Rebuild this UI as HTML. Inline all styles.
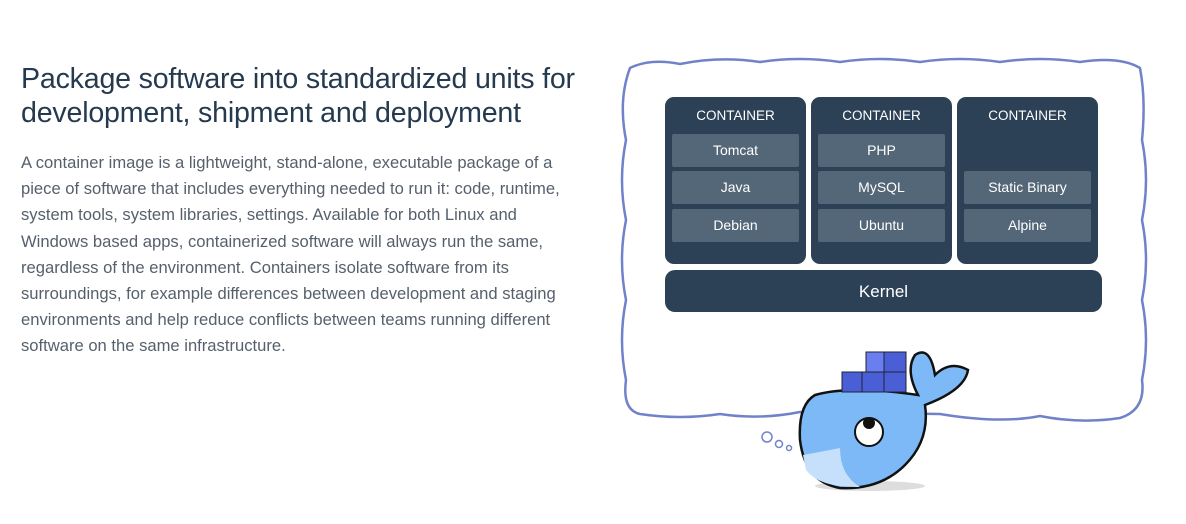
<!DOCTYPE html>
<html><head><meta charset="utf-8"><style>
body{margin:0;width:1186px;height:524px;background:#fff;position:relative;overflow:hidden;font-family:"Liberation Sans",sans-serif}
h1{position:absolute;left:21px;top:62px;margin:0;font-size:28.6px;line-height:34px;font-weight:normal;color:#253a4f;letter-spacing:-0.2px;white-space:nowrap}
p{position:absolute;left:21px;top:150px;margin:0;font-size:16.6px;line-height:26.2px;color:#56606c;white-space:nowrap}
.c{position:absolute;top:97px;width:141px;height:167px;background:#2c4156;border-radius:9px;color:#fff;text-align:center}
.c .t{position:absolute;top:11px;left:0;right:0;font-size:13.5px}
.r{position:absolute;left:7px;width:127px;height:33px;background:#536778;border-radius:2px;font-size:14px;line-height:33px;color:#fff}
.k{position:absolute;left:665px;top:270px;width:437px;height:42px;background:#2c4156;border-radius:10px;color:#fff;text-align:center;font-size:17px;line-height:44px}
</style></head><body>
<h1>Package software into standardized units for<br>development, shipment and deployment</h1>
<p>A container image is a lightweight, stand-alone, executable package of a<br>piece of software that includes everything needed to run it: code, runtime,<br>system tools, system libraries, settings. Available for both Linux and<br>Windows based apps, containerized software will always run the same,<br>regardless of the environment. Containers isolate software from its<br>surroundings, for example differences between development and staging<br>environments and help reduce conflicts between teams running different<br>software on the same infrastructure.</p>
<svg style="position:absolute;left:0;top:0" width="1186" height="524">
<path d="M630 68 Q650 58 680 64 Q720 56 760 62 Q800 56 840 62 Q880 56 920 62 Q960 56 1000 62 Q1040 56 1080 62 Q1120 56 1140 68 Q1146 100 1142 140 Q1150 180 1142 220 Q1150 260 1142 300 Q1150 340 1142 380 Q1146 410 1120 418 Q1080 424 1040 416 Q1000 424 940 414 L800 412 Q760 420 720 414 Q680 420 640 414 Q622 410 626 380 Q618 340 626 300 Q618 260 626 220 Q618 180 626 140 Q618 100 630 68 Z" fill="#fff" stroke="#7282c8" stroke-width="2.5"/>
<circle cx="767" cy="437" r="5" fill="#fff" stroke="#7282c8" stroke-width="1.5"/>
<circle cx="779" cy="444" r="3.5" fill="#fff" stroke="#7282c8" stroke-width="1.5"/>
<circle cx="789" cy="448" r="2.5" fill="#fff" stroke="#7282c8" stroke-width="1.5"/>
<ellipse cx="870" cy="486" rx="55" ry="5" fill="#ddd"/>
<path d="M918 395 Q905 370 915 355 Q930 345 935 375 Q950 360 968 370 Q965 390 925 405 Q930 440 905 465 Q880 490 840 488 Q805 482 800 440 Q798 405 815 395 Q850 385 918 395 Z" fill="#7db9f7" stroke="#111" stroke-width="2.5"/>
<path d="M803 455 Q820 452 840 448 Q840 475 860 487 Q820 488 806 470 Z" fill="#c6e0fb"/>
<rect x="842" y="372" width="20" height="20" fill="#4a5fd6" stroke="#223" stroke-width="1"/>
<rect x="862" y="372" width="22" height="20" fill="#4a5fd6" stroke="#223" stroke-width="1"/>
<rect x="884" y="372" width="22" height="20" fill="#4a5fd6" stroke="#223" stroke-width="1"/>
<rect x="866" y="352" width="20" height="20" fill="#6b7ef0" stroke="#223" stroke-width="1"/>
<rect x="884" y="352" width="22" height="20" fill="#4a5fd6" stroke="#223" stroke-width="1"/>
<circle cx="869" cy="432" r="14" fill="#fff" stroke="#111" stroke-width="2"/>
<circle cx="869" cy="423" r="6" fill="#111"/>
</svg>
<div class="c" style="left:665px"><div class="t">CONTAINER</div><div class="r" style="top:37px">Tomcat</div><div class="r" style="top:74px">Java</div><div class="r" style="top:112px">Debian</div></div>
<div class="c" style="left:811px"><div class="t">CONTAINER</div><div class="r" style="top:37px">PHP</div><div class="r" style="top:74px">MySQL</div><div class="r" style="top:112px">Ubuntu</div></div>
<div class="c" style="left:957px"><div class="t">CONTAINER</div><div class="r" style="top:74px">Static Binary</div><div class="r" style="top:112px">Alpine</div></div>
<div class="k">Kernel</div>
</body></html>
